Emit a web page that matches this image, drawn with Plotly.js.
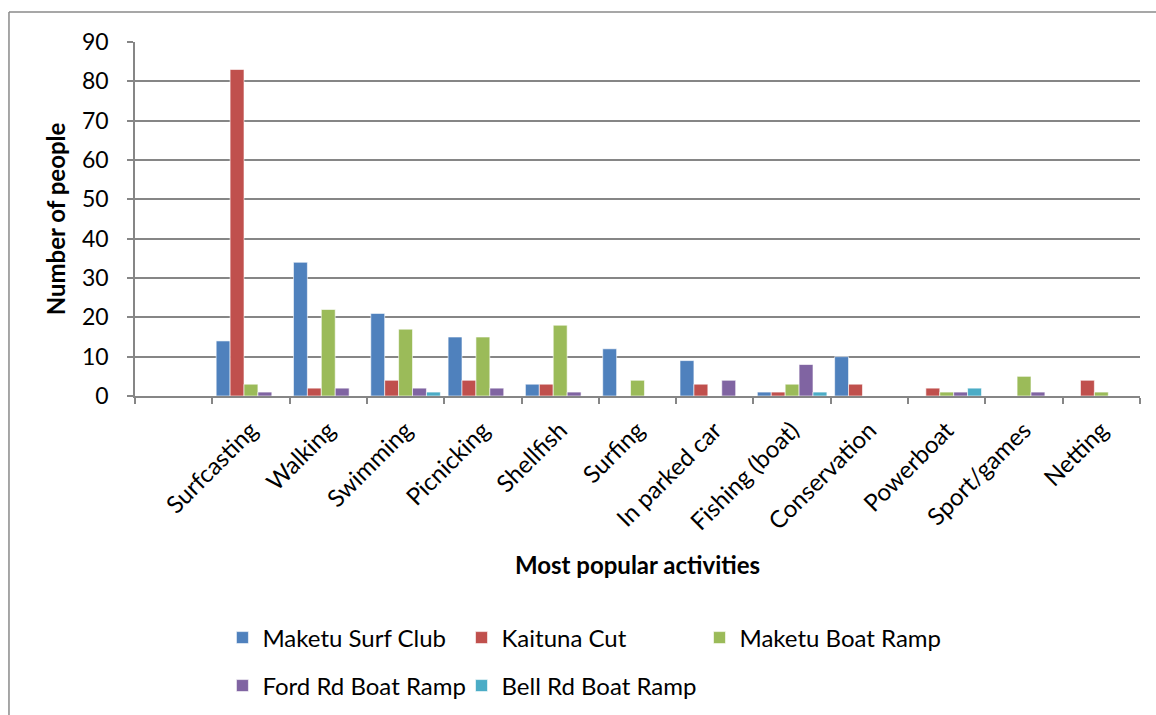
<!DOCTYPE html>
<html>
<head>
<meta charset="utf-8">
<script src="https://cdn.plot.ly/plotly-3.0.1.min.js"></script>
<style>
html,body{margin:0;padding:0;background:#fff;}
#chart{width:1156px;height:715px;}
</style>
</head>
<body>
<div id="chart"></div>
<script>
const categories = ["", "Surfcasting", "Walking", "Swimming", "Picnicking", "Shellfish", "Surfing", "In parked car", "Fishing (boat)", "Conservation", "Powerboat", "Sport/games", "Netting"];
const seriesNames = ["Maketu Surf Club", "Kaituna Cut", "Maketu Boat Ramp", "Ford Rd Boat Ramp", "Bell Rd Boat Ramp"];
const maketuSurfClub = [null, 14, 34, 21, 15, 3, 12, 9, 1, 10, 0, 0, 0];
const kaitunaCut     = [null, 83, 2, 4, 4, 3, 0, 3, 1, 3, 2, 0, 4];
const maketuBoatRamp = [null, 3, 22, 17, 15, 18, 4, 0, 3, 0, 1, 5, 1];
const fordRdBoatRamp = [null, 1, 2, 2, 2, 1, 0, 4, 8, 0, 1, 1, 0];
const bellRdBoatRamp = [null, 0, 0, 1, 0, 0, 0, 0, 1, 0, 2, 0, 0];
const yTicks = [0, 10, 20, 30, 40, 50, 60, 70, 80, 90];

const colors = ["#4F81BD", "#C0504D", "#9BBB59", "#8064A2", "#4BACC6"];
const allSeries = [maketuSurfClub, kaitunaCut, maketuBoatRamp, fordRdBoatRamp, bellRdBoatRamp];
const legendIds = ["legend", "legend2", "legend3", "legend4", "legend5"];

const traces = allSeries.map((vals, i) => ({
  type: "bar",
  name: seriesNames[i],
  x: categories,
  y: vals,
  marker: {color: colors[i], line: {color: "rgba(255,255,255,0.6)", width: 1}},
  legend: legendIds[i],
  hoverinfo: "x+y+name"
}));

const font = "Lato, 'Open Sans', sans-serif";
const fs = 24;
function legendAt(x, y) {
  return {
    orientation: "h",
    xref: "paper",
    yref: "container",
    x: x, y: y,
    xanchor: "left",
    yanchor: "middle",
    font: {family: font, size: fs, color: "#000"},
    bgcolor: "rgba(0,0,0,0)",
    itemclick: false,
    itemdoubleclick: false
  };
}

const layout = {
  width: 1156,
  height: 715,
  margin: {l: 135, r: 16, t: 42, b: 319},
  paper_bgcolor: "#fff",
  plot_bgcolor: "#fff",
  barmode: "group",
  bargap: 0.1,
  bargroupgap: 0,
  font: {family: font, color: "#000"},
  showlegend: true,
  xaxis: {
    type: "category",
    tickangle: -45,
    tickson: "boundaries",
    ticks: "outside",
    ticklen: 6,
    tickcolor: "#868686",
    tickwidth: 1.5,
    ticklabelstandoff: 9,
    showline: true,
    linecolor: "#868686",
    linewidth: 1.5,
    showgrid: false,
    tickfont: {family: font, size: fs, color: "#000"},
    title: {text: "<b>Most popular activities</b>", font: {family: font, size: fs, color: "#000"}, standoff: 23},
    automargin: false
  },
  yaxis: {
    range: [0, 90],
    tickvals: yTicks,
    ticks: "outside",
    ticklen: 6,
    tickcolor: "#868686",
    tickwidth: 1.5,
    ticklabelstandoff: 14,
    showline: true,
    linecolor: "#868686",
    linewidth: 1.5,
    showgrid: true,
    gridcolor: "#868686",
    gridwidth: 1.5,
    zeroline: false,
    tickfont: {family: font, size: 23, color: "#000"},
    title: {text: "<b>Number of people</b>", font: {family: font, size: fs, color: "#000"}, standoff: 10},
    automargin: false
  },
  legend:  legendAt(0.0870, 0.1077),
  legend2: legendAt(0.3249, 0.1077),
  legend3: legendAt(0.5617, 0.1077),
  legend4: legendAt(0.0870, 0.0406),
  legend5: legendAt(0.3249, 0.0406),
  shapes: [
    {type: "line", xref: "paper", yref: "paper", x0: -0.1254, x1: -0.1254, y0: 1.0847, y1: -0.95, line: {color: "#8a8a8a", width: 1.5}, layer: "below"},
    {type: "line", xref: "paper", yref: "paper", x0: -0.1254, x1: 1.03, y0: 1.0847, y1: 1.0847, line: {color: "#8a8a8a", width: 1.5}, layer: "below"}
  ]
};

Plotly.newPlot("chart", traces, layout, {displayModeBar: false, responsive: false});
</script>
</body>
</html>
